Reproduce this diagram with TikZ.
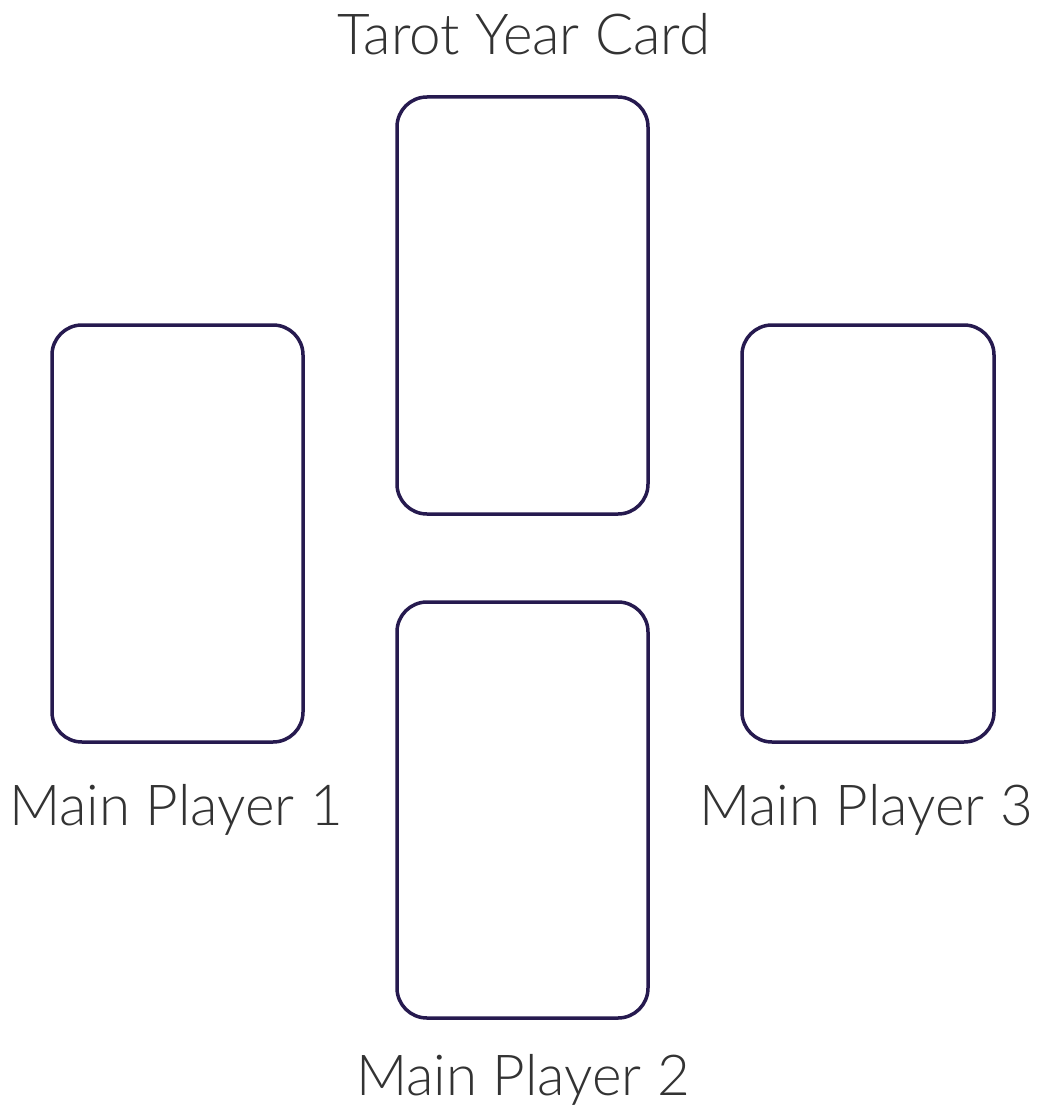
\documentclass[tikz,border=0pt]{standalone}
\usepackage{fontspec}
\IfFontExistsTF{Lato Light}{\setmainfont{Lato Light}}{\setmainfont{Lato}}
\definecolor{cardline}{HTML}{261A4F}
\definecolor{labeltext}{HTML}{333333}
\begin{document}
\begin{tikzpicture}[x=1pt,y=-1pt,
  card/.style={draw=cardline,line width=3.5pt,rounded corners=30pt},
  lbl/.style={anchor=base,text=labeltext,font=\fontsize{56.5}{60}\selectfont,inner sep=0pt}]
\useasboundingbox[fill=white] (0,0) rectangle (1040,1105);
\draw[card] (397,97) rectangle (648,514);
\draw[card] (52,325) rectangle (303,742);
\draw[card] (742,325) rectangle (994,742);
\draw[card] (397,602) rectangle (648,1018);
\node[lbl] (t) at (524,55) {Tarot Year Card};
\node[lbl] (p1) at (176,825) {Main Player 1};
\node[lbl] (p3) at (866,825) {Main Player 3};
\node[lbl] (p2) at (523,1095) {Main Player 2};
\end{tikzpicture}
\end{document}
